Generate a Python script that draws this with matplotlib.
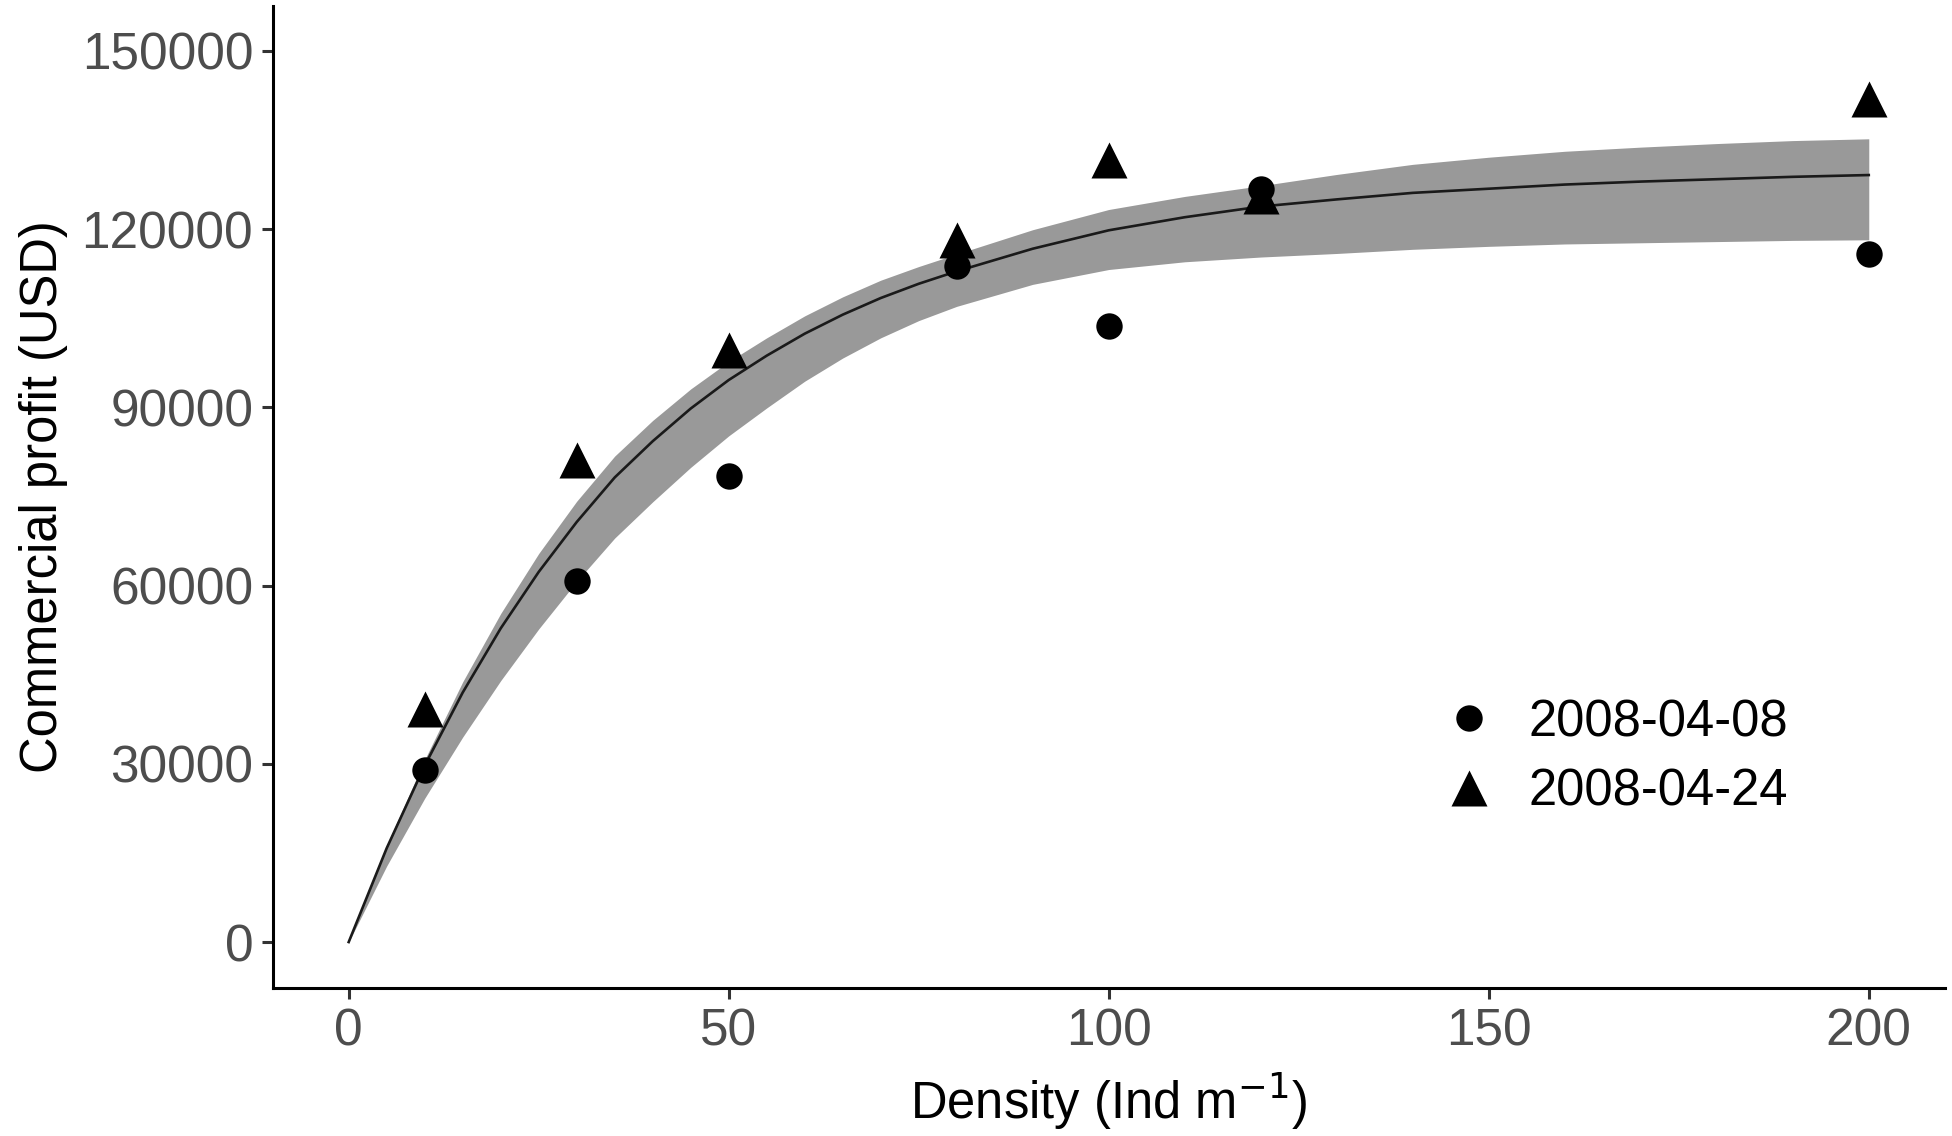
import matplotlib
matplotlib.use('Agg')
from matplotlib import pyplot as plt

plt.rcParams['font.family'] = ['Liberation Sans', 'DejaVu Sans']

# observed points
density = [10, 30, 50, 80, 100, 120, 200]
profit_0408 = [29000, 60700, 78500, 113800, 103700, 126700, 115800]
profit_0424 = [39200, 81100, 99700, 118200, 131600, 125500, 141900]

# fitted curve and its band
fit_x = [0, 5, 10, 15, 20, 25, 30, 35, 40, 45, 50, 55, 60, 65, 70, 75, 80,
         90, 100, 110, 120, 130, 140, 150, 160, 170, 180, 190, 200]
fit_y = [0, 15800, 29700, 42000, 52800, 62300, 70700, 78200, 84300, 89800, 94600,
         98700, 102400, 105600, 108400, 110800, 112900, 116700, 119800, 122000,
         123800, 125000, 126100, 126800, 127500, 128000, 128400, 128800, 129100]
fit_hi = [0, 16300, 30700, 43800, 55300, 65400, 74200, 81800, 87800, 93100, 97700,
          101700, 105400, 108600, 111400, 113700, 115800, 119900, 123300, 125500,
          127300, 129200, 130900, 132100, 133100, 133800, 134400, 134900, 135200]
fit_lo = [0, 12800, 24200, 34500, 44000, 52700, 60700, 68000, 74100, 79900, 85200,
          89900, 94400, 98300, 101700, 104600, 107000, 110700, 113200, 114500,
          115300, 115900, 116600, 117100, 117500, 117700, 117900, 118100, 118200]

labels = ['2008-04-08', '2008-04-24']
yticks = [0, 30000, 60000, 90000, 120000, 150000]
xticks = [0, 50, 100, 150, 200]

fig = plt.figure(figsize=(19.52, 11.36), dpi=100)
ax = fig.add_axes([0.1397, 0.1302, 0.8566, 0.8645])

ax.fill_between(fit_x, fit_lo, fit_hi, color='#999999', lw=0, zorder=1)
ax.plot(fit_x, fit_y, color='#1a1a1a', lw=1.9, zorder=2)
ax.plot(density, profit_0408, 'o', color='black', ms=19, mec='none', label=labels[0], zorder=3)
ax.plot(density, profit_0424, '^', color='black', ms=26, mec='none', label=labels[1], zorder=3)

ax.set_xlim(-10, 210)
ax.set_ylim(-7750, 157550)
ax.set_xticks(xticks)
ax.set_yticks(yticks)
ax.set_xticklabels([str(v) for v in xticks])
ax.set_yticklabels([str(v) for v in yticks])

for s in ['top', 'right']:
    ax.spines[s].set_visible(False)
for s in ['left', 'bottom']:
    ax.spines[s].set_linewidth(2.2)
    ax.spines[s].set_color('black')

ax.tick_params(axis='both', length=8, width=2.2, color='#333333',
               labelcolor='#4d4d4d', labelsize=37, pad=6)

ax.set_xlabel('Density (Ind m$^{-1}$)', fontsize=36.5, color='black', labelpad=10)
ax.set_ylabel('Commercial profit (USD)', fontsize=36.5, color='black', labelpad=10)

ax.legend(loc='center left', bbox_to_anchor=(0.7004, 0.235), frameon=False,
          fontsize=36.5, handlelength=1.0, handletextpad=0.68, labelspacing=0.4,
          borderpad=0, borderaxespad=0)

fig.savefig('out.png', dpi=100)
